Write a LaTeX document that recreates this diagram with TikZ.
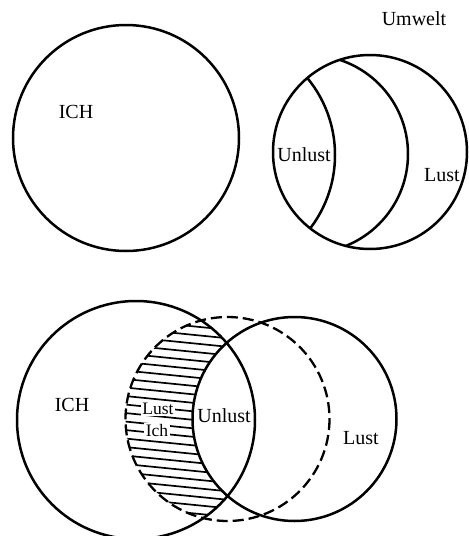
\documentclass[tikz,border=0pt]{standalone}
\usepackage{fontspec}
\setmainfont{Liberation Serif}
\begin{document}
\begin{tikzpicture}[x=1pt,y=-1pt,
  ring/.style={line width=2.5pt},
  dashring/.style={line width=2.3pt,dash pattern=on 11pt off 5pt},
  hatch/.style={line width=1.7pt},
  lbl/.style={font=\fontsize{20}{23}\selectfont,inner sep=1pt},
  slbl/.style={font=\fontsize{17.5}{20}\selectfont,inner sep=1.5pt,fill=white}]
\useasboundingbox (0,0) rectangle (469,536);
% --- top ---
\coordinate (ichA) at (126,138);
\coordinate (envA) at (370,152);
\coordinate (unA) at (214,155);
\coordinate (midA) at (309,154);
\draw[ring] (ichA) circle[radius=113];
\begin{scope}
  \clip (envA) circle[radius=97];
  \draw[ring] (unA) circle[radius=121];
  \draw[ring] (midA) circle[radius=99];
\end{scope}
\draw[ring] (envA) circle[radius=97];
\node[lbl] (tIch) at (76,112) {ICH};
\node[lbl] (tUmwelt) at (414,19) {Umwelt};
\node[lbl] (tUnlust) at (304,155) {Unlust};
\node[lbl] (tLust) at (442,175) {Lust};
% --- bottom ---
\coordinate (ichB) at (136,420);
\coordinate (lustB) at (294.5,419);
\coordinate (dashB) at (227.5,419);
\begin{scope}
  \clip (dashB) circle[radius=102];
  \clip (ichB) circle[radius=119];
  \foreach \yy in {300,308.5,...,560} {
    \draw[hatch] (100,\yy) -- (280,\yy+18);
  }
  \fill[white] (lustB) circle[radius=102];
\end{scope}
\draw[dashring] (dashB) circle[radius=102];
\draw[ring] (ichB) circle[radius=119];
\draw[ring] (lustB) circle[radius=102];
\node[lbl] (bIch) at (72,405) {ICH};
\node[slbl] (bLust) at (158,409) {Lust};
\node[slbl] (bIch2) at (157,431) {Ich};
\node[lbl] (bUnlust) at (224,416) {Unlust};
\node[lbl] (bLust2) at (361,438) {Lust};
\end{tikzpicture}
\end{document}
